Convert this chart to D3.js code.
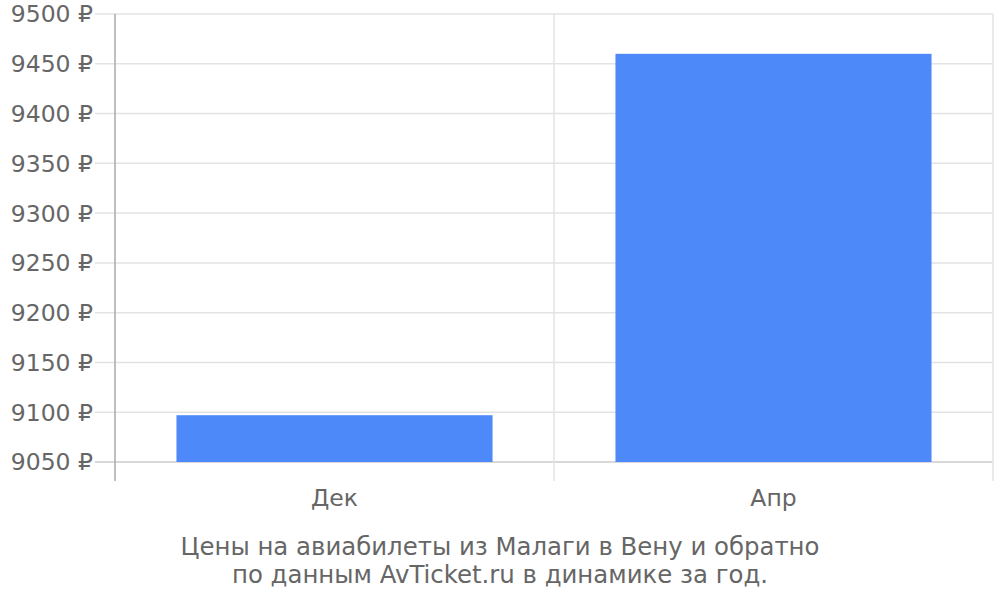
<!DOCTYPE html>
<html>
<head>
<meta charset="utf-8">
<style>
  body { margin: 0; background: #fff; }
  svg { display: block; font-family: 'DejaVu Sans', sans-serif; }
</style>
</head>
<body>
<svg width="1000" height="600"></svg>
<script src="https://d3js.org/d3.v7.min.js"></script>
<script>
  // data
  let months = ["Дек", "Апр"];
  let prices = [9097, 9460];
  let yTicks = [9050, 9100, 9150, 9200, 9250, 9300, 9350, 9400, 9450, 9500];
  let caption = ["Цены на авиабилеты из Малаги в Вену и обратно",
                 "по данным AvTicket.ru в динамике за год."];

  let plotLeft = 115, plotRight = 993, plotTop = 14, plotBottom = 462, axisEnd = 481;

  let svg = d3.select("svg");

  let y = d3.scaleLinear()
    .domain([9050, 9500])
    .range([plotBottom, plotTop]);

  let x = d3.scaleBand()
    .domain(months)
    .range([plotLeft, plotRight])
    .paddingInner(0.28)
    .paddingOuter(0.14);

  let xEdges = d3.scaleBand().domain(months).range([plotLeft, plotRight]).padding(0);

  // horizontal grid
  svg.selectAll(".hgrid")
    .data(yTicks)
    .join("line")
    .attr("x1", plotLeft - 20)
    .attr("x2", plotRight)
    .attr("y1", d => y(d))
    .attr("y2", d => y(d))
    .style("stroke", d => d === 9050 ? "#cccccc" : "#e3e3e3")
    .style("stroke-width", 1.5);

  // vertical grid at band edges
  let vlines = months.map(m => xEdges(m)).slice(1).concat([plotRight]);
  svg.selectAll(".vgrid")
    .data(vlines)
    .join("line")
    .attr("x1", d => d)
    .attr("x2", d => d)
    .attr("y1", plotTop)
    .attr("y2", axisEnd)
    .style("stroke", "#e3e3e3")
    .style("stroke-width", 1.5);

  // bars
  svg.selectAll(".bar")
    .data(months)
    .join("rect")
    .attr("x", d => x(d))
    .attr("width", x.bandwidth())
    .attr("y", (d, i) => y(prices[i]))
    .attr("height", (d, i) => y(9050) - y(prices[i]))
    .style("fill", "#4d89f9");

  // left axis line
  svg.append("line")
    .attr("x1", plotLeft).attr("x2", plotLeft)
    .attr("y1", plotTop).attr("y2", axisEnd)
    .style("stroke", "#aaaaaa")
    .style("stroke-width", 1.5);

  // y labels
  svg.selectAll(".ylab")
    .data(yTicks)
    .join("text")
    .attr("x", 93)
    .attr("y", d => y(d))
    .attr("dy", "0.36em")
    .attr("text-anchor", "end")
    .style("font-size", "23.5px")
    .style("fill", "#666666")
    .text(d => d + " ₽");

  // x labels
  svg.selectAll(".xlab")
    .data(months)
    .join("text")
    .attr("x", d => x(d) + x.bandwidth() / 2)
    .attr("y", 506)
    .attr("text-anchor", "middle")
    .style("font-size", "23.5px")
    .style("fill", "#666666")
    .text(d => d);

  // caption
  svg.selectAll(".cap")
    .data(caption)
    .join("text")
    .attr("x", 500)
    .attr("y", (d, i) => 555 + i * 28)
    .attr("text-anchor", "middle")
    .style("font-size", "24.4px")
    .style("fill", "#666666")
    .text(d => d);
</script>
</body>
</html>
